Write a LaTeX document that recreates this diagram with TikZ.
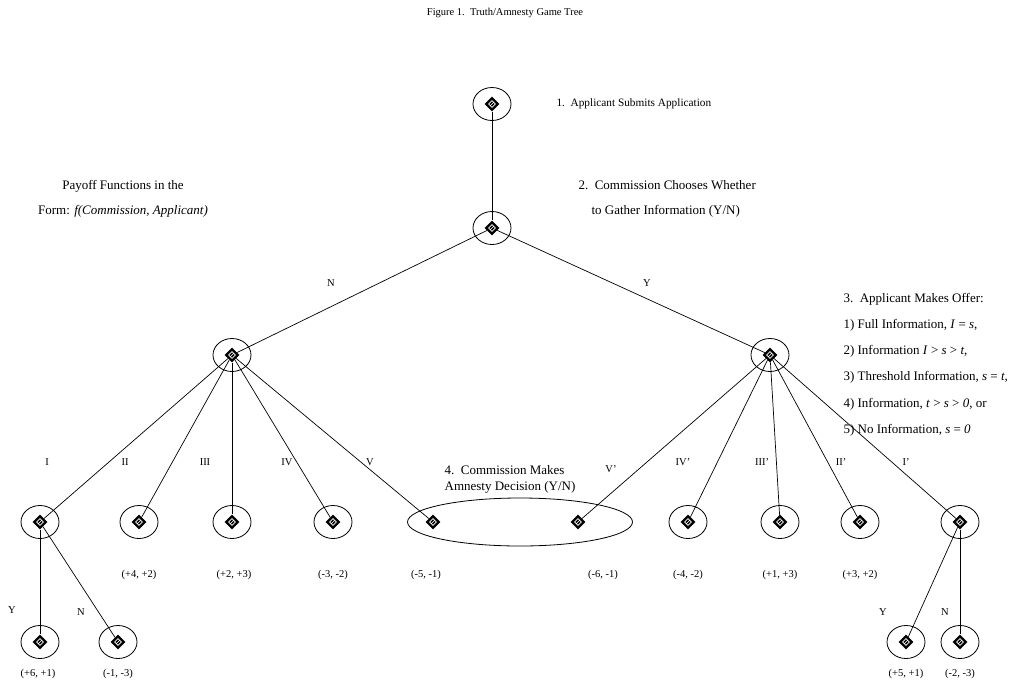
\documentclass[tikz,border=0pt]{standalone}
\usepackage{fontspec}
\setmainfont{Liberation Serif}
\usetikzlibrary{shapes.geometric}

\tikzset{
  info/.style={draw, ellipse, line width=0.8pt, minimum width=38pt, minimum height=33pt},
  dmd/.style={diamond, fill=black, inner sep=0pt, minimum size=15pt,
    path picture={\draw[white, line width=0.6pt] (path picture bounding box.center)
      ++(0,3.4pt) -- ++(3.4pt,-3.4pt) -- ++(-3.4pt,-3.4pt) -- ++(-3.4pt,3.4pt) -- cycle
      (path picture bounding box.center) ++(-1.7pt,-1.7pt) -- ++(3.4pt,3.4pt);}},
  move/.style={line width=0.7pt},
  pay/.style={inner sep=1pt},
  note/.style={font=\fontsize{13}{15.6}\selectfont}
}

\begin{document}
\begin{tikzpicture}[x=1pt, y=-1pt, font=\fontsize{10.5}{12.6}\selectfont]
  \useasboundingbox[fill=white] (0,0) rectangle (1026,686);

  % Title
  \node (title) at (505,13) {Figure 1.\ \ Truth/Amnesty Game Tree};

  % Decision nodes
  \foreach \nm/\x/\y in {r0/492/104, r1/492/228, nL/232/355, nR/770/355,
      a1/40/522, a2/139/522, a3/232/522, a4/333/522,
      b4/688/522, b3/780/522, b2/860/522, b1/960/522,
      y1/40/642, n1/118/642, y2/906/642, n2/960/642} {
    \node[info] (e\nm) at (\x,\y) {};
    \node[dmd] (\nm) at (\x,\y) {};
  }
  % the shared information set
  \node[info, minimum width=225pt, minimum height=48pt] (eset) at (520,522) {};
  \node[dmd] (a5) at (433,522) {};
  \node[dmd] (b5) at (578,522) {};

  % Moves
  \draw[move] (r0) -- (r1);
  \draw[move] (r1) -- (nL);
  \draw[move] (r1) -- (nR);
  \foreach \k in {1,...,5} {
    \draw[move] (nL) -- (a\k);
    \draw[move] (nR) -- (b\k);
  }
  \draw[move] (a1) -- (y1);
  \draw[move] (a1) -- (n1);
  \draw[move] (b1) -- (y2);
  \draw[move] (b1) -- (n2);

  % Move labels
  \node (lN) at (331,283) {N};
  \node (lY) at (647,283) {Y};
  \foreach \t/\x in {I/47, II/125, III/205, IV/287, V/370,
      IV'/683, III'/762, II'/841, I'/906} {
    \node (m\x) at (\x,462) {\t};
  }
  \node (mVp) at (611,469) {V'};
  \node (ly1) at (12,610) {Y};
  \node (ln1) at (81,612) {N};
  \node (ly2) at (883,612) {Y};
  \node (ln2) at (945,612) {N};

  % Payoffs
  \foreach \t/\x in {{(+4, +2)}/139, {(+2, +3)}/234, {(-3, -2)}/333, {(-5, -1)}/426,
      {(-6, -1)}/603, {(-4, -2)}/688, {(+1, +3)}/780, {(+3, +2)}/860} {
    \node[pay] (p\x) at (\x,575) {\t};
  }
  \node[pay] (py1) at (38,674) {(+6, +1)};
  \node[pay] (pn1) at (118,674) {(-1, -3)};
  \node[pay] (py2) at (906,674) {(+5, +1)};
  \node[pay] (pn2) at (960,674) {(-2, -3)};

  % Stage notes
  \node[anchor=west, font=\fontsize{11.3}{13.5}\selectfont] (s1) at (553,104)
    {1.\ \ Applicant Submits Application};
  \node[note, anchor=west, align=left] (s2) at (575,199)
    {2.\ \ Commission Chooses Whether\\[9pt] \hspace{13pt}to Gather Information (Y/N)};
  \node[note, anchor=north west, align=left] (s3) at (840,290)
    {3.\ \ Applicant Makes Offer:\\[10.5pt]
     1) Full Information, \textit{I} = \textit{s},\\[10.5pt]
     2) Information \textit{I} > \textit{s} > \textit{t},\\[10.5pt]
     3) Threshold Information, \textit{s} = \textit{t},\\[10.5pt]
     4) Information, \textit{t} > \textit{s} > \textit{0}, or\\[10.5pt]
     5) No Information, \textit{s} = \textit{0}};
  \node[note, align=left, font=\fontsize{13}{16}\selectfont] (s4) at (510,479)
    {4.\ \ Commission Makes\\Amnesty Decision (Y/N)};
  \node[note, align=center] (form) at (123,199)
    {Payoff Functions in the\\[9pt] Form: \textit{f(Commission, Applicant)}};
\end{tikzpicture}
\end{document}
